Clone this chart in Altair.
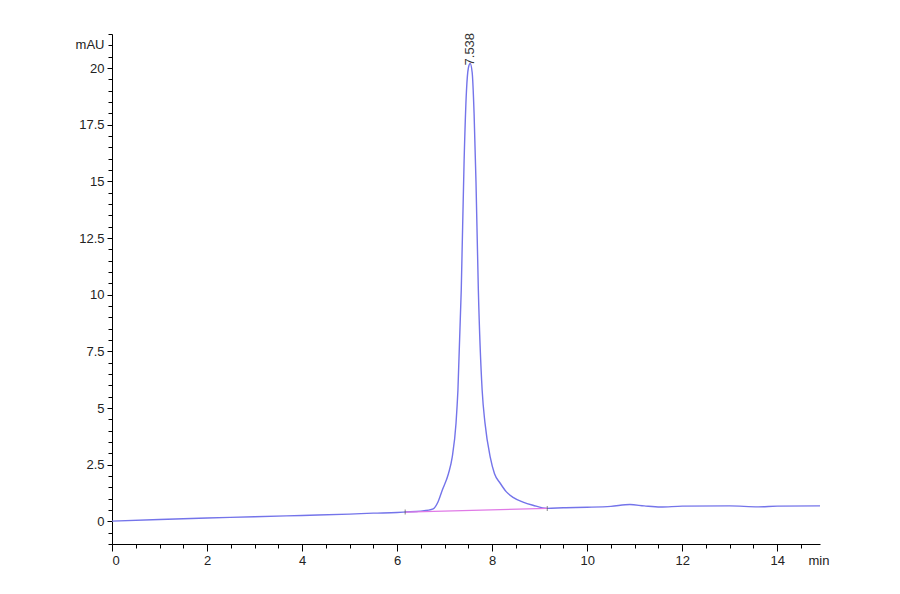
import altair as alt
import pandas as pd

# chromatogram trace (min, mAU)
time_min = [0, 1, 2, 3, 4, 5, 5.5, 6, 6.17, 6.5, 6.76, 6.86, 6.95, 7.08, 7.16, 7.24, 7.28,
            7.35, 7.41, 7.46, 7.5, 7.538, 7.58, 7.62, 7.66, 7.71, 7.79, 7.85, 7.96, 8.05,
            8.17, 8.3, 8.44, 8.65, 8.86, 9.16, 9.5, 10, 10.5, 10.9, 11.2, 11.54, 12, 13,
            13.6, 14, 14.9]
signal_mau = [0.01, 0.08, 0.15, 0.2, 0.26, 0.32, 0.36, 0.39, 0.41, 0.45, 0.55, 0.85, 1.37,
              2.1, 2.83, 4.33, 5.78, 10.2, 15.9, 19.0, 20.0, 20.2, 19.8, 18.0, 15.0, 10.2,
              5.78, 4.33, 2.83, 2.1, 1.68, 1.3, 1.06, 0.85, 0.71, 0.57, 0.6, 0.62, 0.66,
              0.74, 0.68, 0.63, 0.67, 0.68, 0.64, 0.67, 0.68]

baseline_time = [6.17, 9.16]
baseline_mau = [0.41, 0.57]

peak_time = [7.538]
peak_mau = [20.2]
peak_label = ["7.538"]

x_major = [0, 2, 4, 6, 8, 10, 12, 14]
x_minor = [0.5 * i for i in range(30)]
y_major = [0, 2.5, 5, 7.5, 10, 12.5, 15, 17.5, 20]
y_minor = [-1 + 0.5 * i for i in range(46)]

trace = pd.DataFrame({"t": time_min, "v": signal_mau})
base = pd.DataFrame({"t": baseline_time, "v": baseline_mau})
peak = pd.DataFrame({"t": peak_time, "v": peak_mau, "label": peak_label})

FONT = "Liberation Sans"
xs = alt.Scale(domain=[0, 14.9], nice=False, zero=False)
ys = alt.Scale(domain=[-1, 21.5], nice=False, zero=False)

axis_common = dict(grid=False, domainColor="black", tickColor="black", labelColor="#222",
                   labelFont=FONT, labelFontSize=13, titleFont=FONT, titleFontSize=13,
                   titleColor="#222", titleFontWeight="normal", domainWidth=1, tickWidth=1)

x_axis = alt.Axis(values=x_major, format="d", tickSize=7, labelPadding=3, orient="bottom",
                  title="min", titleAngle=0, titleAlign="left", titleBaseline="top",
                  titleX=696, titleY=10, **axis_common)
y_axis = alt.Axis(values=y_major, format=".1~f", tickSize=5, labelPadding=3, orient="left",
                  title="mAU", titleAngle=0, titleAlign="right", titleBaseline="middle",
                  titleX=-8, titleY=10, **axis_common)

x_axis_minor = alt.Axis(values=x_minor, labels=False, domain=False, tickSize=4, grid=False,
                        ticks=True, tickColor="black", tickWidth=1, orient="bottom", title="")
y_axis_minor = alt.Axis(values=y_minor, labels=False, domain=False, tickSize=4, grid=False,
                        ticks=True, tickColor="black", tickWidth=1, orient="left", title="")

line = alt.Chart(trace).mark_line(color="#7474ea", strokeWidth=1.4,
                                  interpolate="monotone").encode(
    x=alt.X("t:Q", scale=xs, axis=x_axis),
    y=alt.Y("v:Q", scale=ys, axis=y_axis))

minor = alt.Chart(trace).mark_line(opacity=0).encode(
    x=alt.X("t:Q", scale=xs, axis=x_axis_minor),
    y=alt.Y("v:Q", scale=ys, axis=y_axis_minor))

baseline = alt.Chart(base).mark_line(color="#e07ae6", strokeWidth=1.3).encode(
    x=alt.X("t:Q", scale=xs, axis=None), y=alt.Y("v:Q", scale=ys, axis=None))

marks = alt.Chart(base).mark_tick(color="#555", size=5, thickness=1, orient="vertical").encode(
    x=alt.X("t:Q", scale=xs, axis=None), y=alt.Y("v:Q", scale=ys, axis=None))

label = alt.Chart(peak).mark_text(angle=270, align="left", baseline="middle", dx=-2,
                                  font="Liberation Sans", fontSize=13, color="#333").encode(
    x=alt.X("t:Q", scale=xs, axis=None), y=alt.Y("v:Q", scale=ys, axis=None),
    text="label:N")

chart = alt.layer(line, minor, baseline, marks, label).resolve_axis(
    x="independent", y="independent"
).properties(
    width=708, height=510,
    autosize=alt.AutoSizeParams(type="none"),
    padding={"left": 104, "top": 26, "right": 60, "bottom": 40},
).configure_view(stroke=None)

chart.save("out.html", embed_options={"renderer": "svg", "actions": False})
